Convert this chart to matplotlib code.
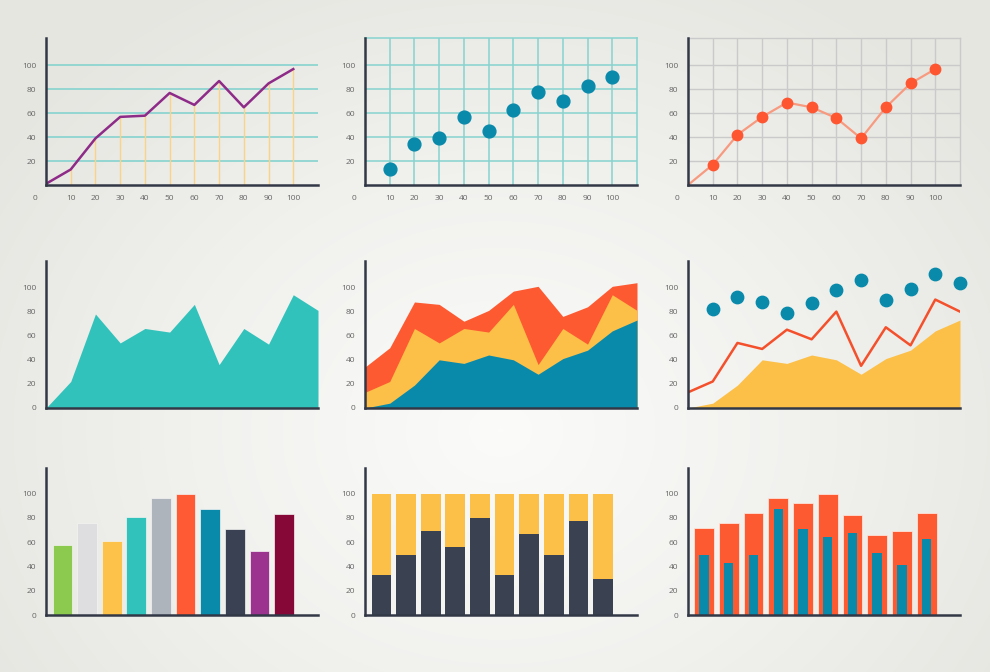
import numpy as np
import matplotlib.pyplot as plt
from matplotlib.colors import LinearSegmentedColormap

plt.rcParams['font.family'] = ['Open Sans', 'DejaVu Sans']

# top row data
x_top = [0, 10, 20, 30, 40, 50, 60, 70, 80, 90, 100]
purple_line = [1, 13, 39, 57, 58, 77, 67, 87, 65, 85, 97]
scatter_x = [10, 20, 30, 40, 50, 60, 70, 80, 90, 100]
scatter_y = [13, 34, 39, 57, 45, 63, 78, 70, 83, 90]
orange_line = [0, 17, 42, 57, 69, 65, 56, 39, 65, 85, 97]

# middle row data
x_mid = [0, 10, 20, 30, 40, 50, 60, 70, 80, 90, 100, 110]
teal_area = [0, 22, 78, 54, 66, 63, 86, 36, 66, 53, 94, 81]
stack_blue = [0, 4, 19, 40, 37, 44, 40, 28, 41, 48, 64, 73]
stack_yellow = [13, 22, 66, 54, 66, 63, 86, 36, 66, 53, 94, 81]
stack_red = [34, 50, 88, 86, 72, 81, 97, 101, 76, 84, 101, 104]
combo_area = [0, 4, 19, 40, 37, 44, 40, 28, 41, 48, 64, 73]
combo_line = [13, 22, 54, 49, 65, 57, 80, 35, 67, 52, 90, 80]
combo_dots_x = [10, 20, 30, 40, 50, 60, 70, 80, 90, 100, 110]
combo_dots = [82, 92, 88, 79, 87, 98, 106, 90, 99, 111, 104]

# bottom row data
bar_values = [57.5, 75.5, 61, 80.5, 96.5, 100, 87, 70.5, 52.5, 83.5]
bar_colors = ['#8bca4e', '#dedee1', '#fdc24a', '#31c2bc', '#adb4bb',
              '#ff5a33', '#0a8aab', '#3a4152', '#9c338f', '#850836']
dark_part = [33, 49, 69, 56, 80, 33, 67, 49, 77, 30]
full_part = [100, 100, 100, 100, 100, 100, 100, 100, 100, 100]
pair_red = [72, 75.5, 84, 96.5, 92, 100, 82, 66, 69, 84]
pair_blue = [49.5, 43, 49.5, 87, 70.5, 64.5, 67.5, 51, 41.5, 62.5]

TEAL = '#31c2bb'
BLUE = '#0a8aab'
YELLOW = '#fcc048'
RED = '#fd5a32'
SPINE = '#323846'
LABEL = '#666666'

fig = plt.figure(figsize=(9.9, 6.72), dpi=100)

# soft radial background
bg = fig.add_axes([0, 0, 1, 1], zorder=-5)
yy, xx = np.mgrid[0:672, 0:990]
r = np.sqrt(((xx - 500) / 620.0) ** 2 + ((yy - 430) / 520.0) ** 2)
bg_cmap = LinearSegmentedColormap.from_list('bg', ['#fbfbfa', '#f1f1ee', '#e5e6e0'])
bg.imshow(np.clip(r, 0, 1), cmap=bg_cmap, vmin=0, vmax=1, aspect='auto')
bg.axis('off')

lefts = [46 / 990, 365 / 990, 688 / 990]
width = 272 / 990
bottoms = [1 - 185 / 672, 1 - 408 / 672, 1 - 615 / 672]
height = 147 / 672


def make_ax(col, row, xmax, ymax):
    ax = fig.add_axes([lefts[col], bottoms[row], width, height])
    ax.patch.set_alpha(0)
    ax.set_xlim(0, xmax)
    ax.set_ylim(0, ymax)
    ax.spines['top'].set_visible(False)
    ax.spines['right'].set_visible(False)
    for s in ['left', 'bottom']:
        ax.spines[s].set_color(SPINE)
        ax.spines[s].set_linewidth(1.8)
        ax.spines[s].set_zorder(5)
    ax.tick_params(length=0, labelsize=6, labelcolor=LABEL, pad=7)
    ax.set_axisbelow(True)
    return ax


def top_row_ticks(ax):
    ax.set_xticks(scatter_x)
    ax.set_yticks([20, 40, 60, 80, 100])
    ax.annotate('0', xy=(0, 0), xytext=(-11, -13), textcoords='offset pixels',
                ha='center', va='center', fontsize=6, color=LABEL)


def box_grid(ax, color, lw):
    ax.grid(True, color=color, linewidth=lw)
    for s in ['top', 'right']:
        ax.spines[s].set_visible(True)
        ax.spines[s].set_color(color)
        ax.spines[s].set_linewidth(lw)


# 1: line with guide lines
ax = make_ax(0, 0, 110, 123)
top_row_ticks(ax)
ax.grid(True, axis='y', color='#86d3cf', linewidth=1.2)
ax.vlines(x_top[1:], 0, purple_line[1:], color='#fbd388', linewidth=1)
ax.plot(x_top, purple_line, color='#8e2a88', linewidth=1.8, zorder=3)

# 2: scatter on grid
ax = make_ax(1, 0, 110, 123)
top_row_ticks(ax)
box_grid(ax, '#86d3cf', 1.1)
ax.scatter(scatter_x, scatter_y, s=85, color=BLUE, zorder=3)

# 3: line with markers on grey grid
ax = make_ax(2, 0, 110, 123)
top_row_ticks(ax)
box_grid(ax, '#cacaca', 1.0)
ax.plot(x_top, orange_line, color='#f79a80', linewidth=1.6, zorder=3)
ax.plot(x_top[1:], orange_line[1:], 'o', color='#fe5631', markersize=7.5, zorder=4)

# 4: single area
ax = make_ax(0, 1, 110, 122)
ax.set_xticks([])
ax.set_yticks([0, 20, 40, 60, 80, 100])
ax.fill_between(x_mid, 0, teal_area, color=TEAL, linewidth=0)

# 5: stacked area
ax = make_ax(1, 1, 110, 122)
ax.set_xticks([])
ax.set_yticks([0, 20, 40, 60, 80, 100])
ax.fill_between(x_mid, 0, stack_red, color=RED, linewidth=0)
ax.fill_between(x_mid, 0, stack_yellow, color=YELLOW, linewidth=0)
ax.fill_between(x_mid, 0, stack_blue, color=BLUE, linewidth=0)

# 6: area + line + dots
ax = make_ax(2, 1, 110, 122)
ax.set_xticks([])
ax.set_yticks([0, 20, 40, 60, 80, 100])
ax.fill_between(x_mid, 0, combo_area, color=YELLOW, linewidth=0)
ax.plot(x_mid, combo_line, color='#f4502c', linewidth=1.8)
ax.scatter(combo_dots_x, combo_dots, s=80, color=BLUE, zorder=3, clip_on=False)

pos = np.arange(len(bar_values)) + 0.67

# 7: coloured bars
ax = make_ax(0, 2, 11.05, 121)
ax.set_xticks([])
ax.set_yticks([0, 20, 40, 60, 80, 100])
ax.bar(pos, bar_values, width=0.8, color=bar_colors, edgecolor='#f4f4f2', linewidth=0.5)

# 8: 100% stacked bars
ax = make_ax(1, 2, 11.05, 121)
ax.set_xticks([])
ax.set_yticks([0, 20, 40, 60, 80, 100])
ax.bar(pos, full_part, width=0.8, color=YELLOW, linewidth=0)
ax.bar(pos, dark_part, width=0.8, color='#3a4150', linewidth=0)

# 9: overlapping bars
ax = make_ax(2, 2, 11.0, 121)
ax.set_xticks([])
ax.set_yticks([0, 20, 40, 60, 80, 100])
ax.bar(pos - 0.02, pair_red, width=0.8, color=RED, edgecolor='#fde3d8', linewidth=0.6)
ax.bar(pos - 0.02, pair_blue, width=0.38, color=BLUE, linewidth=0)

fig.savefig('out.png', dpi=100)
